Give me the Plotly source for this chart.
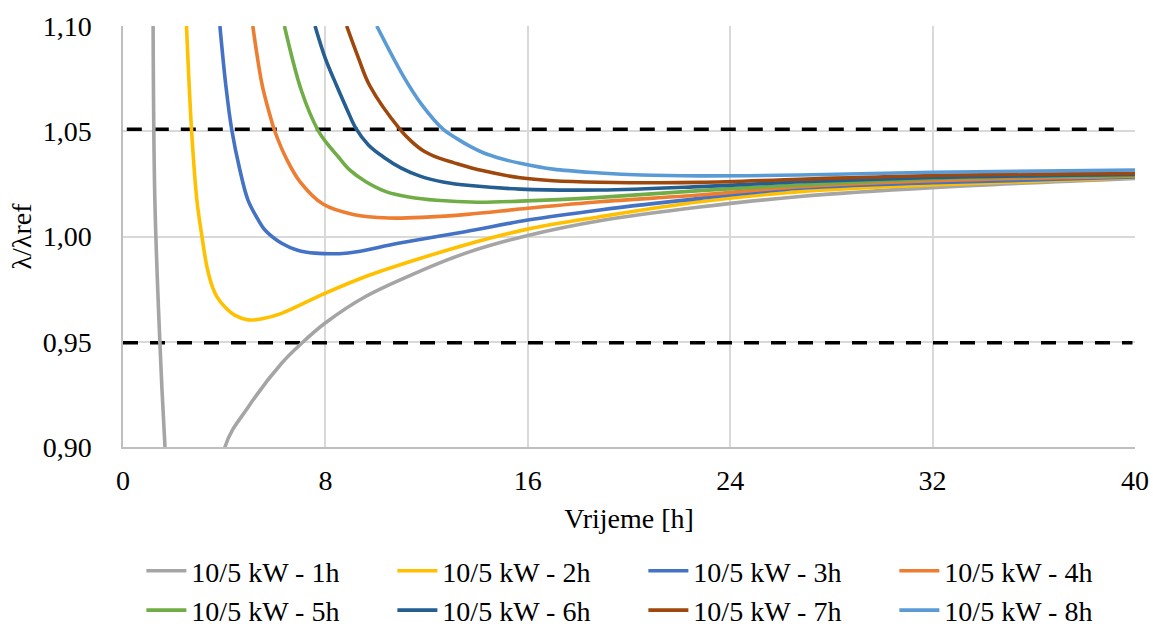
import plotly.graph_objects as go

# ---- data ----
names = ["10/5 kW - 1h", "10/5 kW - 2h", "10/5 kW - 3h", "10/5 kW - 4h",
         "10/5 kW - 5h", "10/5 kW - 6h", "10/5 kW - 7h", "10/5 kW - 8h"]
colors = ["#A5A5A5", "#FFC000", "#4472C4", "#ED7D31",
          "#70AD47", "#255E91", "#9E480E", "#5B9BD5"]

x_1h = [1.19, 1.26, 1.46, 1.66, 2.2, 3.0, 3.6, 4.03, 4.95, 6.27, 7.06, 7.98, 9.57, 11.54, 13.52, 16.0, 18.85, 22.8, 26.76, 32.0, 40.0]
y_1h = [1.10, 1.017, 0.949, 0.90, 0.80, 0.78, 0.84, 0.90, 0.919, 0.9398, 0.9493, 0.9588, 0.9714, 0.9825, 0.992, 1.0005, 1.0075, 1.014, 1.019, 1.0232, 1.0276]

x_2h = [2.51, 2.71, 2.92, 3.10, 3.32, 3.56, 3.72, 4.03, 4.43, 4.95, 5.5, 6.27, 7.98, 9.57, 11.54, 13.52, 16.0, 18.85, 22.8, 26.76, 32.0, 40.0]
y_2h = [1.10, 1.0506, 1.0173, 1.0017, 0.9855, 0.9752, 0.9712, 0.9665, 0.9625, 0.9604, 0.9609, 0.9635, 0.973, 0.9809, 0.9888, 0.996, 1.0035, 1.0094, 1.0165, 1.0213, 1.0245, 1.028]

x_3h = [3.83, 4.07, 4.30, 4.62, 4.94, 5.35, 5.61, 6.27, 6.9, 7.59, 8.9, 10.88, 13.52, 16.0, 18.85, 22.8, 26.76, 32.0, 40.0]
y_3h = [1.10, 1.0712, 1.0506, 1.0316, 1.0173, 1.0078, 1.0031, 0.9968, 0.9935, 0.9921, 0.9922, 0.9968, 1.0023, 1.0078, 1.0126, 1.0181, 1.0229, 1.0255, 1.0283]

x_4h = [5.13, 5.5, 5.8, 6.0, 6.47, 7.0, 7.92, 9.1, 10.5, 12.0, 13.6, 16.0, 18.85, 22.8, 26.76, 32.0, 40.0]
y_4h = [1.10, 1.072, 1.058, 1.050, 1.0367, 1.026, 1.0153, 1.0105, 1.0088, 1.0092, 1.0105, 1.0134, 1.0165, 1.0197, 1.0237, 1.0265, 1.0287]

x_5h = [6.38, 7.06, 7.7, 8.0, 8.5, 8.97, 9.6, 10.42, 11.3, 12.4, 14.0, 15.7, 18.85, 22.8, 26.76, 32.0, 40.0]
y_5h = [1.10, 1.069, 1.0506, 1.0452, 1.038, 1.0315, 1.026, 1.0212, 1.0188, 1.0172, 1.0163, 1.0168, 1.0186, 1.0218, 1.0245, 1.0275, 1.029]

x_6h = [7.59, 8.0, 8.45, 8.85, 9.2, 9.7, 10.29, 11.0, 11.74, 12.7, 13.72, 15.7, 18.85, 22.8, 26.76, 32.0, 40.0]
y_6h = [1.10, 1.0845, 1.0715, 1.0605, 1.0515, 1.0435, 1.0378, 1.0325, 1.0287, 1.0258, 1.0242, 1.0225, 1.0221, 1.0237, 1.026, 1.028, 1.0295]

x_7h = [8.84, 9.3, 9.76, 10.95, 11.4, 11.9, 12.5, 13.06, 14.2, 15.7, 17.0, 18.85, 22.8, 26.76, 32.0, 40.0]
y_7h = [1.10, 1.085, 1.0715, 1.0509, 1.0452, 1.0405, 1.0372, 1.0351, 1.0313, 1.0279, 1.0265, 1.0258, 1.0257, 1.0272, 1.029, 1.030]

x_8h = [10.03, 11.08, 11.8, 12.66, 13.2, 13.72, 14.24, 15.0, 15.7, 17.0, 18.85, 20.5, 22.8, 26.76, 32.0, 40.0]
y_8h = [1.10, 1.0762, 1.0628, 1.0509, 1.0465, 1.0428, 1.0398, 1.0368, 1.0348, 1.032, 1.0302, 1.0292, 1.0288, 1.0292, 1.0305, 1.0316]

series_x = [x_1h, x_2h, x_3h, x_4h, x_5h, x_6h, x_7h, x_8h]
series_y = [y_1h, y_2h, y_3h, y_4h, y_5h, y_6h, y_7h, y_8h]

limit_upper_x = [0.15, 39.55]
limit_upper_y = [1.051, 1.051]
limit_lower_x = [0.0, 39.9]
limit_lower_y = [0.9495, 0.9495]

x_ticks = [0, 8, 16, 24, 32, 40]
y_ticks = [0.90, 0.95, 1.00, 1.05, 1.10]

FONT = "Liberation Serif, Times New Roman, serif"
FS = 28

fig = go.Figure()

for lx, ly in [(limit_upper_x, limit_upper_y), (limit_lower_x, limit_lower_y)]:
    fig.add_trace(go.Scatter(x=lx, y=ly, mode="lines", showlegend=False,
                             hoverinfo="skip",
                             line=dict(color="black", width=3.5, dash="15px,12px")))

for n, c, xs, ys in zip(names, colors, series_x, series_y):
    fig.add_trace(go.Scatter(x=xs, y=ys, mode="lines", name=n,
                             line=dict(color=c, width=3.6, shape="spline", smoothing=1.0)))

fig.update_layout(
    width=1153, height=626,
    margin=dict(l=123, r=18, t=26, b=179),
    paper_bgcolor="white", plot_bgcolor="white",
    separators=", ",
    font=dict(family=FONT, size=FS, color="black"),
    showlegend=True,
    legend=dict(orientation="h", xref="container", yref="container",
                x=0.558, xanchor="center", y=1 - 546 / 626, yanchor="top",
                font=dict(family=FONT, size=FS, color="black"),
                entrywidth=196, entrywidthmode="pixels", itemwidth=40,
                tracegroupgap=0),
)
fig.update_xaxes(range=[0, 40], tickvals=x_ticks, showgrid=True, gridcolor="#D9D9D9",
                 gridwidth=1.5, showline=True, linecolor="#BFBFBF", linewidth=1.5,
                 zeroline=False, ticks="", ticklabelstandoff=8, automargin=False,
                 tickfont=dict(family=FONT, size=FS),
                 title=dict(text="Vrijeme [h]", font=dict(family=FONT, size=FS), standoff=13))
fig.update_yaxes(range=[0.9, 1.1], tickvals=y_ticks, tickformat=".2f", showgrid=True,
                 gridcolor="#D9D9D9", gridwidth=1.5, showline=True, linecolor="#BFBFBF",
                 linewidth=1.5, zeroline=False, ticks="", ticklabelstandoff=24, automargin=False,
                 tickfont=dict(family=FONT, size=FS),
                 title=dict(text="λ/λref", font=dict(family=FONT, size=FS), standoff=3))

fig.write_html("out.html", config={"displayModeBar": False},
               post_script="document.body.style.margin='0';")
